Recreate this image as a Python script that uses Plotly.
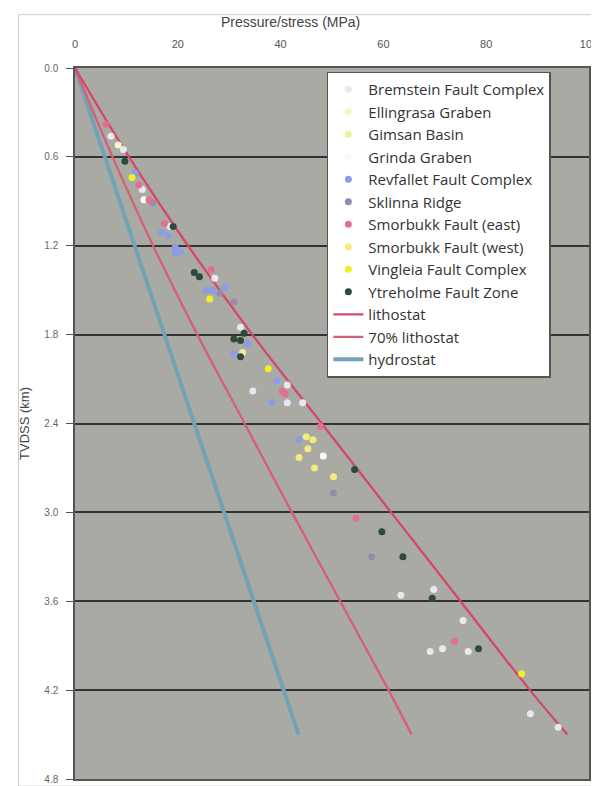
import plotly.graph_objects as go

# ---- data (pressure in MPa, depth TVDSS in km) ----
bremstein_p = [7.0, 9.4, 13.1, 18.5, 27.2, 32.2, 41.3, 34.6, 41.3, 44.3, 69.8, 63.4, 75.5, 69.1, 71.5, 76.5, 88.6, 94.0]
bremstein_d = [0.46, 0.55, 0.82, 1.07, 1.42, 1.75, 2.14, 2.18, 2.26, 2.26, 3.52, 3.56, 3.73, 3.94, 3.92, 3.94, 4.36, 4.45]
ellingrasa_p = [8.4]
ellingrasa_d = [0.52]
gimsan_p = [32.6]
gimsan_d = [1.92]
grinda_p = [13.4, 48.3]
grinda_d = [0.89, 2.62]
revfallet_p = [11.7, 16.8, 18.1, 19.5, 20.5, 19.5, 25.5, 26.8, 29.2, 33.6, 30.9, 39.3, 38.3, 43.6]
revfallet_d = [0.71, 1.11, 1.13, 1.21, 1.24, 1.25, 1.50, 1.50, 1.48, 1.86, 1.93, 2.11, 2.26, 2.51]
sklinna_p = [15.1, 28.2, 30.9, 50.3, 57.7]
sklinna_d = [0.91, 1.52, 1.58, 2.87, 3.30]
smor_east_p = [6.0, 12.4, 14.4, 17.4, 26.5, 40.3, 40.9, 47.7, 54.7, 73.8]
smor_east_d = [0.38, 0.79, 0.89, 1.05, 1.36, 2.18, 2.20, 2.42, 3.04, 3.87]
smor_west_p = [45.0, 46.3, 45.3, 43.6, 46.6, 50.3]
smor_west_d = [2.49, 2.51, 2.57, 2.63, 2.70, 2.76]
vingleia_p = [11.1, 26.2, 37.6, 86.9]
vingleia_d = [0.74, 1.56, 2.03, 4.09]
ytreholme_p = [9.7, 19.1, 23.2, 24.2, 32.9, 30.9, 32.2, 32.2, 54.4, 59.7, 63.8, 69.5, 78.5]
ytreholme_d = [0.63, 1.07, 1.38, 1.41, 1.79, 1.83, 1.84, 1.95, 2.71, 3.13, 3.30, 3.58, 3.92]

line_depth = [0.0, 0.6, 1.2, 1.8, 2.4, 3.0, 3.6, 4.2, 4.5]
lithostat_p = [0.0, 10.5, 22.0, 34.5, 48.0, 61.5, 75.0, 88.5, 95.8]
litho70_p = [0.0, 7.3, 15.2, 23.8, 33.0, 42.2, 51.6, 61.0, 65.5]
hydro_depth = [0.0, 4.5]
hydrostat_p = [0.0, 43.5]

x_ticks = [0, 20, 40, 60, 80, 100]
y_ticks = [0.0, 0.6, 1.2, 1.8, 2.4, 3.0, 3.6, 4.2, 4.8]

series = [
    ("Bremstein Fault Complex", bremstein_p, bremstein_d, "#e8e8f2"),
    ("Ellingrasa Graben", ellingrasa_p, ellingrasa_d, "#f6f4c8"),
    ("Gimsan Basin", gimsan_p, gimsan_d, "#f0f0a0"),
    ("Grinda Graben", grinda_p, grinda_d, "#fafafa"),
    ("Revfallet Fault Complex", revfallet_p, revfallet_d, "#8c9ce6"),
    ("Sklinna Ridge", sklinna_p, sklinna_d, "#9a88b0"),
    ("Smorbukk Fault (east)", smor_east_p, smor_east_d, "#e2708c"),
    ("Smorbukk Fault (west)", smor_west_p, smor_west_d, "#f2ec78"),
    ("Vingleia Fault Complex", vingleia_p, vingleia_d, "#f2f020"),
    ("Ytreholme Fault Zone", ytreholme_p, ytreholme_d, "#2e4a3a"),
]

fig = go.Figure()

fig.add_trace(go.Scatter(x=hydrostat_p, y=hydro_depth, mode="lines", name="hydrostat",
                         line=dict(color="#72a2b6", width=4), legendrank=1300))
fig.add_trace(go.Scatter(x=litho70_p, y=line_depth, mode="lines", name="70% lithostat",
                         line=dict(color="#d85e76", width=2.3, shape="spline"), legendrank=1200))
fig.add_trace(go.Scatter(x=lithostat_p, y=line_depth, mode="lines", name="lithostat",
                         line=dict(color="#d4486c", width=2.3, shape="spline"), legendrank=1100))

for i, (name, p, d, col) in enumerate(series):
    fig.add_trace(go.Scatter(x=p, y=d, mode="markers", name=name,
                             marker=dict(color=col, size=7, symbol="circle"),
                             legendrank=100 + i * 10))

font_family = "Liberation Sans, Arial, sans-serif"

fig.update_layout(
    width=599, height=786,
    margin=dict(l=67, r=9, t=60, b=15),
    paper_bgcolor="white",
    plot_bgcolor="#a9aaa3",
    font=dict(family=font_family, color="#444444", size=11),
    showlegend=True,
    legend=dict(
        x=0.49, y=0.995, xanchor="left", yanchor="top",
        bgcolor="white", bordercolor="#555555", borderwidth=1.5,
        font=dict(family="Open Sans, Liberation Sans, sans-serif", size=15, color="#333333"),
        tracegroupgap=0, itemwidth=30,
    ),
    xaxis=dict(
        side="top", range=[0, 100], tickvals=x_ticks,
        showgrid=False, zeroline=False,
        showline=True, linecolor="#555555", linewidth=1.5, mirror=True,
        ticks="", ticklabelstandoff=14, tickfont=dict(size=11, color="#555555"),
    ),
    yaxis=dict(
        range=[4.8, 0], tickvals=y_ticks, tickformat=".1f",
        showgrid=True, gridcolor="#333333", gridwidth=1.5, zeroline=False,
        showline=True, linecolor="#555555", linewidth=1.5, mirror=True,
        ticks="outside", ticklen=7, tickcolor="#555555", ticklabelstandoff=6,
        tickfont=dict(size=10, color="#666666"),
        title=dict(text="TVDSS (km)", font=dict(size=13, color="#444444"), standoff=12),
    ),
    annotations=[dict(text="Pressure/stress (MPa)", xref="paper", yref="paper",
                      x=0.42, y=1.0, yshift=46, showarrow=False,
                      xanchor="center", yanchor="middle",
                      font=dict(size=14, color="#444444"))],
    shapes=[dict(type="rect", xref="paper", yref="paper",
                 x0=-0.11, x1=1.008, y0=-0.01, y1=1.075,
                 line=dict(color="#cccccc", width=1), layer="below")],
)

fig.write_html("out.html")
